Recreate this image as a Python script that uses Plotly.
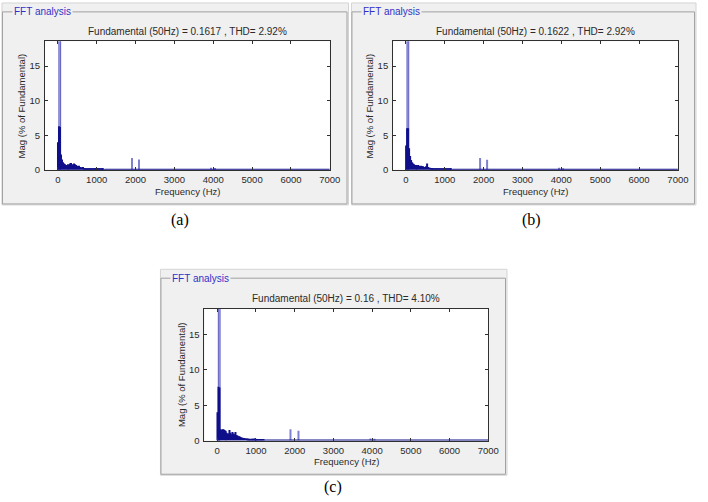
import plotly.graph_objects as go

W, H = 708, 502

# ---------------- data ----------------
freq_dense = [0, 25, 50, 75, 100, 125, 150, 175, 200, 225, 250, 275, 300, 325, 350, 375,
              400, 425, 450, 475, 500, 525, 550, 575, 600, 625, 650, 675, 700, 725, 750,
              775, 800, 825, 850, 875, 900, 925, 950, 975, 1000, 1025, 1050, 1075, 1100,
              1125, 1150, 1175, 1200]

mag_a = [4.0, 6.3, 6.2, 2.2, 1.5, 1.1, 0.9, 0.8, 0.6, 0.7, 0.8, 0.6, 0.5, 0.9, 1.0, 0.7,
         0.8, 0.9, 0.8, 0.7, 0.6, 0.4, 0.6, 0.4, 0.35, 0.3, 0.4, 0.25, 0.2, 0.2, 0.2,
         0.18, 0.15, 0.15, 0.15, 0.12, 0.12, 0.12, 0.15, 0.25, 0.15, 0.1, 0.12, 0.1, 0.08,
         0.15, 0.1, 0.08, 0.06]
mag_b = [3.5, 6.0, 6.0, 3.1, 2.0, 1.4, 1.1, 0.9, 0.8, 0.7, 0.7, 0.6, 0.6, 0.7, 0.6, 0.5,
         0.6, 0.5, 0.5, 0.4, 0.4, 0.5, 0.9, 0.4, 0.3, 0.3, 0.25, 0.25, 0.2, 0.2, 0.2,
         0.15, 0.15, 0.15, 0.12, 0.12, 0.2, 0.12, 0.1, 0.12, 0.1, 0.1, 0.1, 0.08, 0.08,
         0.1, 0.15, 0.08, 0.06]
mag_c = [4.0, 7.6, 7.5, 1.6, 1.5, 1.6, 1.6, 1.5, 1.4, 1.3, 1.1, 1.0, 1.0, 1.5, 1.1, 0.9,
         1.2, 1.0, 0.9, 1.2, 0.8, 0.7, 0.6, 0.6, 0.5, 0.45, 0.4, 0.35, 0.35, 0.3, 0.3,
         0.28, 0.25, 0.25, 0.22, 0.25, 0.25, 0.25, 0.28, 0.25, 0.22, 0.2, 0.18, 0.2, 0.2,
         0.15, 0.15, 0.15, 0.12]

spike_freq = [1900, 2100, 3950, 4050]
spike_a = [1.7, 1.5, 0.3, 0.25]
spike_b = [1.7, 1.45, 0.3, 0.2]
spike_c = [1.6, 1.4, 0.3, 0.25]

fund_freq = [50]
fund_mag = [100]

floor_freq = [1200, 7000]
floor_mag = [0.05, 0.05]

titles = ["Fundamental (50Hz) = 0.1617 , THD= 2.92%",
          "Fundamental (50Hz) = 0.1622 , THD= 2.92%",
          "Fundamental (50Hz) = 0.16 , THD= 4.10%"]
panel_tags = ["(a)", "(b)", "(c)"]
x_ticks = [0, 1000, 2000, 3000, 4000, 5000, 6000, 7000]
y_ticks = [0, 5, 10, 15]

# ---------------- layout geometry (pixels) ----------------
areas = [(45.7, 335.0, 41.7, 171.5),
         (399.3, 688.6, 41.7, 171.5),
         (207.7, 496.0, 312.0, 445.0)]
boxes = [(2, 354, 3, 207, 12),
         (357, 707, 3, 207, 12),
         (163, 515, 272, 480, 281)]
tag_pos = [(183, 222), (540, 222), (338, 492)]

def px(x):
    return x / W

def py(y):
    return 1 - y / H

fig = go.Figure()
mags = [mag_a, mag_b, mag_c]
spikes = [spike_a, spike_b, spike_c]

DARK = "#10108a"
LIGHT = "#8080d0"
shapes = []
annotations = []
FONT = "Liberation Sans"
TXT = "#2a2a2a"

for i in range(3):
    sfx = "" if i == 0 else str(i + 1)
    xa, ya = "x" + sfx, "y" + sfx
    fig.add_trace(go.Scatter(x=floor_freq, y=floor_mag, mode="lines",
                             line=dict(color=DARK, width=1.5), xaxis=xa, yaxis=ya,
                             showlegend=False, hoverinfo="skip"))
    fig.add_trace(go.Bar(x=fund_freq, y=fund_mag, width=45, marker_color="#b4b4ea",
                         marker_line=dict(color="#5a5ac0", width=1),
                         xaxis=xa, yaxis=ya, showlegend=False))
    fig.add_trace(go.Bar(x=freq_dense, y=mags[i], width=25, marker_color=DARK,
                         marker_line_width=0, xaxis=xa, yaxis=ya, showlegend=False))
    fig.add_trace(go.Bar(x=spike_freq, y=spikes[i], width=22, marker_color=LIGHT,
                         marker_line_width=0, xaxis=xa, yaxis=ya, showlegend=False))

    l, r, t, b = areas[i]
    axis_common = dict(showline=True, mirror="ticks", linecolor="#303030", linewidth=1,
                       ticks="inside", ticklen=3, tickcolor="#303030", showgrid=False,
                       zeroline=False, tickfont=dict(family=FONT, size=9.5, color=TXT),
                       fixedrange=True)
    fig.update_layout({
        "xaxis" + sfx: dict(domain=[px(l), px(r)], range=[-330, 7000], anchor=ya,
                            tickvals=x_ticks, ticklabelstandoff=1, **axis_common),
        "yaxis" + sfx: dict(domain=[py(b), py(t)], range=[0, 18.6], anchor=xa,
                            tickvals=y_ticks, ticklabelstandoff=2, **axis_common),
    })

    x0, x1, y0, y1, gy = boxes[i]
    shapes.append(dict(type="rect", xref="paper", yref="paper", x0=px(x0), x1=px(x1),
                       y0=py(y1), y1=py(y0), fillcolor="#f0f0f0",
                       line=dict(color="#d4d4d4", width=1), layer="below"))
    shapes.append(dict(type="rect", xref="paper", yref="paper", x0=px(x0 + 0.5),
                       x1=px(x1 - 1.5), y0=py(y1 - 1), y1=py(gy), fillcolor="rgba(0,0,0,0)",
                       line=dict(color="#a0a0a0", width=1), layer="below"))
    shapes.append(dict(type="rect", xref=xa + " domain", yref=ya + " domain", x0=0, x1=1,
                       y0=0, y1=1, fillcolor="white", line_width=0, layer="below"))

    annotations.append(dict(text="FFT analysis", xref="paper", yref="paper",
                            x=px(x0 + 10), y=py(gy), xanchor="left", yanchor="middle",
                            showarrow=False, bgcolor="#f0f0f0", borderpad=1,
                            font=dict(family=FONT, size=10, color="#3030c8")))
    annotations.append(dict(text=titles[i], xref="paper", yref="paper",
                            x=px((l + r) / 2), y=py(t - 10), xanchor="center",
                            yanchor="middle", showarrow=False,
                            font=dict(family=FONT, size=10, color=TXT)))
    annotations.append(dict(text="Frequency (Hz)", xref="paper", yref="paper",
                            x=px((l + r) / 2), y=py(b + 21.5), xanchor="center",
                            yanchor="middle", showarrow=False,
                            font=dict(family=FONT, size=9.5, color=TXT)))
    annotations.append(dict(text="Mag (% of Fundamental)", xref="paper", yref="paper",
                            x=px(l - 23.5), y=py((t + b) / 2), xanchor="center",
                            yanchor="middle", textangle=-90, showarrow=False,
                            font=dict(family=FONT, size=9.5, color=TXT)))
    tx, ty = tag_pos[i]
    annotations.append(dict(text=panel_tags[i], xref="paper", yref="paper",
                            x=px(tx), y=py(ty), xanchor="center", yanchor="middle",
                            showarrow=False,
                            font=dict(family="Liberation Serif", size=16, color="black")))

fig.update_layout(width=W, height=H, margin=dict(l=0, r=0, t=0, b=0),
                  paper_bgcolor="white", plot_bgcolor="white", barmode="overlay",
                  shapes=shapes, annotations=annotations, showlegend=False)

fig.write_html("out.html", config={"displayModeBar": False})
